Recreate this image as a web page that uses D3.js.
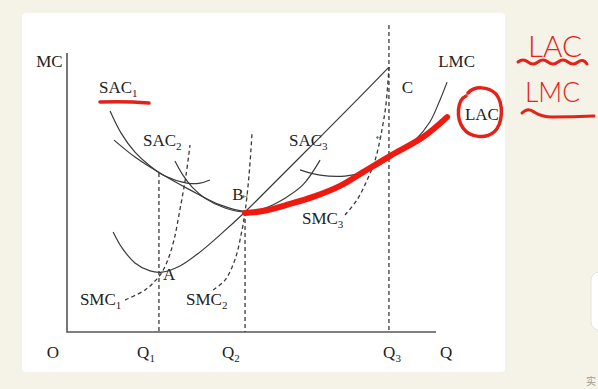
<!DOCTYPE html>
<html><head><meta charset="utf-8">
<script src="https://cdn.jsdelivr.net/npm/d3@7"></script>
<style>
html,body{margin:0;padding:0;background:#f5f3e7;}
svg{display:block;}
</style></head>
<body>
<svg id="chart" width="598" height="389"></svg>
<script>
// ---- data (quantity Q on x, cost on y) ----
const lacX   = [1.53,2.21,3.02,4.00,4.98,5.79,6.37,7.25,8.00,8.88,9.63,10.50,11.58,12.36];
const lacY   = [6.25,5.70,5.18,4.63,4.14,3.93,3.98,4.21,4.45,4.80,5.25,5.77,6.39,7.03];
const redX   = [5.79,6.37,7.25,8.00,8.88,9.63,10.50,11.58,12.36];
const redY   = [3.88,3.94,4.17,4.40,4.76,5.21,5.73,6.35,7.00];
const sac1X  = [1.40,1.76,2.21,2.70,3.19,3.90,4.33,4.65];
const sac1Y  = [7.20,6.48,5.86,5.41,5.08,4.85,4.85,4.95];
const sac2X  = [3.51,3.77,4.07,4.49,5.14,5.79,6.44,7.09,7.67,8.23];
const sac2Y  = [5.57,5.11,4.72,4.36,4.04,3.91,4.04,4.36,4.79,5.60];
const sac3X  = [7.58,8.23,9.04,9.85,10.67,11.32,11.80,12.13,12.36];
const sac3Y  = [5.28,5.11,5.08,5.28,5.77,6.25,6.84,7.56,8.14];
const lmcX   = [1.50,1.79,2.21,2.70,3.09,3.67,4.33,5.04,5.79,6.93,8.23,9.43,10.47];
const lmcY   = [3.26,2.74,2.25,1.99,1.95,2.15,2.61,3.22,3.91,5.05,6.35,7.56,8.63];
const smc1X  = [1.89,2.54,2.86,3.09,3.28,3.48,3.67,3.87,4.00];
const smc1Y  = [1.04,1.37,1.66,1.95,2.35,3.00,3.97,5.11,6.09];
const smc2X  = [4.75,5.14,5.46,5.66,5.79,5.92,6.02];
const smc2Y  = [1.37,1.69,2.35,3.16,3.91,5.11,6.51];
const smc3X  = [9.04,9.43,9.76,10.02,10.21,10.37,10.47];
const smc3Y  = [3.81,4.30,4.95,5.60,6.42,7.39,8.63];
const qValues = [2.99, 5.79, 10.47];           // Q1, Q2, Q3
const qTopY   = [5.18, 3.91, 10.0];            // where the dashed guides stop
const tickLabels = ["Q1","Q2","Q3","Q"];
const tickLabelX = [2.28, 5.04, 10.28, 12.13];
const curveLabels = [
  {t:"SAC", s:"1", x:1.04, y:7.79},
  {t:"SAC", s:"2", x:2.47, y:6.06},
  {t:"SAC", s:"3", x:7.22, y:6.06},
  {t:"SMC", s:"1", x:0.42, y:0.88},
  {t:"SMC", s:"2", x:3.87, y:0.88},
  {t:"SMC", s:"3", x:7.64, y:3.52},
  {t:"A",   s:"",  x:3.12, y:1.69},
  {t:"B",   s:"",  x:5.37, y:4.30},
  {t:"C",   s:"",  x:10.89, y:7.79},
  {t:"LMC", s:"",  x:12.07, y:8.63},
  {t:"LAC", s:"",  x:12.94, y:6.91},
  {t:"MC",  s:"",  x:-1.00, y:8.63},
  {t:"O",   s:"",  x:-0.66, y:-0.85}
];

// ---- scales ----
const x = d3.scaleLinear().domain([0,12]).range([67,436]);
const y = d3.scaleLinear().domain([0,10]).range([332,25]);
const svg = d3.select("#chart");

// panel
svg.append("rect").attr("x",22).attr("y",13).attr("width",483).attr("height",359)
  .attr("rx",4).attr("fill","#ffffff");
// side widget
svg.append("rect").attr("x",591).attr("y",272).attr("width",20).attr("height",58)
  .attr("rx",8).attr("fill","#ffffff").attr("stroke","#e6e4da");

const zip = (xs,ys)=>xs.map((v,i)=>[v,ys[i]]);
const line = d3.line().x(d=>x(d[0])).y(d=>y(d[1])).curve(d3.curveCatmullRom.alpha(0.5));
const ink = "#3a3a3a";

// axes
svg.append("path").attr("d", d3.line()([[x(0),y(9.09)],[x(0),y(0)],[x(12),y(0)]]))
  .attr("fill","none").attr("stroke","#555").attr("stroke-width",1.6);

// dashed guides
qValues.forEach((q,i)=>{
  svg.append("line").attr("x1",x(q)).attr("x2",x(q)).attr("y1",y(qTopY[i])).attr("y2",y(0))
    .attr("stroke",ink).attr("stroke-width",1.3).attr("stroke-dasharray","4,3");
});

// solid curves
[[lacX,lacY],[sac1X,sac1Y],[sac2X,sac2Y],[sac3X,sac3Y],[lmcX,lmcY]].forEach(([a,b])=>{
  svg.append("path").attr("d",line(zip(a,b))).attr("fill","none")
    .attr("stroke",ink).attr("stroke-width",1.2);
});
// dashed SMC curves
[[smc1X,smc1Y],[smc2X,smc2Y],[smc3X,smc3Y]].forEach(([a,b])=>{
  svg.append("path").attr("d",line(zip(a,b))).attr("fill","none")
    .attr("stroke",ink).attr("stroke-width",1.3).attr("stroke-dasharray","4,3");
});

// red LAC trace
svg.append("path").attr("d",line(zip(redX,redY))).attr("fill","none")
  .attr("stroke","#ee1a10").attr("stroke-width",6).attr("stroke-linecap","round");

// labels
const serif = "'Liberation Serif','Times New Roman',serif";
curveLabels.forEach(l=>{
  const t = svg.append("text").attr("x",x(l.x)).attr("y",y(l.y))
    .attr("font-family",serif).attr("font-size",17).attr("fill","#222").text(l.t);
  if (l.s) t.append("tspan").attr("font-size",11).attr("dy",4).text(l.s);
});
tickLabels.forEach((lab,i)=>{
  const t = svg.append("text").attr("x",x(tickLabelX[i])).attr("y",y(-0.85))
    .attr("font-family",serif).attr("font-size",17).attr("fill","#222").text(lab[0]);
  if (lab.length>1) t.append("tspan").attr("font-size",11).attr("dy",4).text(lab.slice(1));
});
// small return marks
svg.append("text").attr("x",x(5.70)).attr("y",y(4.33)).attr("font-size",8).attr("fill","#555")
  .attr("font-family","DejaVu Sans").text("↵");
svg.append("text").attr("x",x(10.05)).attr("y",y(6.25)).attr("font-size",8).attr("fill","#555")
  .attr("font-family","DejaVu Sans").text("↵");

// ---- hand-drawn red annotations ----
const red = "#e3221a";
svg.append("path").attr("d","M100,102 Q125,101 149,103").attr("fill","none")
  .attr("stroke",red).attr("stroke-width",3.5).attr("stroke-linecap","round");
svg.append("path")
  .attr("d","M468,93 C474,86 488,86 496,94 C504,104 503,124 494,132 C486,139 470,138 463,128 C456,118 457,100 466,96")
  .attr("fill","none").attr("stroke",red).attr("stroke-width",3.5).attr("stroke-linecap","round");
const hand = "Lato, 'DejaVu Sans', sans-serif";
svg.append("text").attr("x",528).attr("y",57).attr("font-family",hand).attr("font-weight",300)
  .attr("font-size",29).attr("fill",red).attr("textLength",54).attr("lengthAdjust","spacingAndGlyphs").text("LAC");
svg.append("text").attr("x",525).attr("y",102).attr("font-family",hand).attr("font-weight",300)
  .attr("font-size",27).attr("fill",red).attr("textLength",55).attr("lengthAdjust","spacingAndGlyphs").text("LMC");
svg.append("path").attr("d","M518,62 q5,-4 10,0 t10,0 t10,0 t10,0 t10,0 t10,0 t9,2")
  .attr("fill","none").attr("stroke",red).attr("stroke-width",3).attr("stroke-linecap","round");
svg.append("path").attr("d","M522,113 q6,-6 12,-1 q8,5 18,5 q20,0 42,-1")
  .attr("fill","none").attr("stroke",red).attr("stroke-width",3).attr("stroke-linecap","round");
svg.append("text").attr("x",586).attr("y",385).attr("font-size",10).attr("fill","#999")
  .attr("font-family","'Noto Sans CJK SC'").text("实");
</script>
</body></html>
